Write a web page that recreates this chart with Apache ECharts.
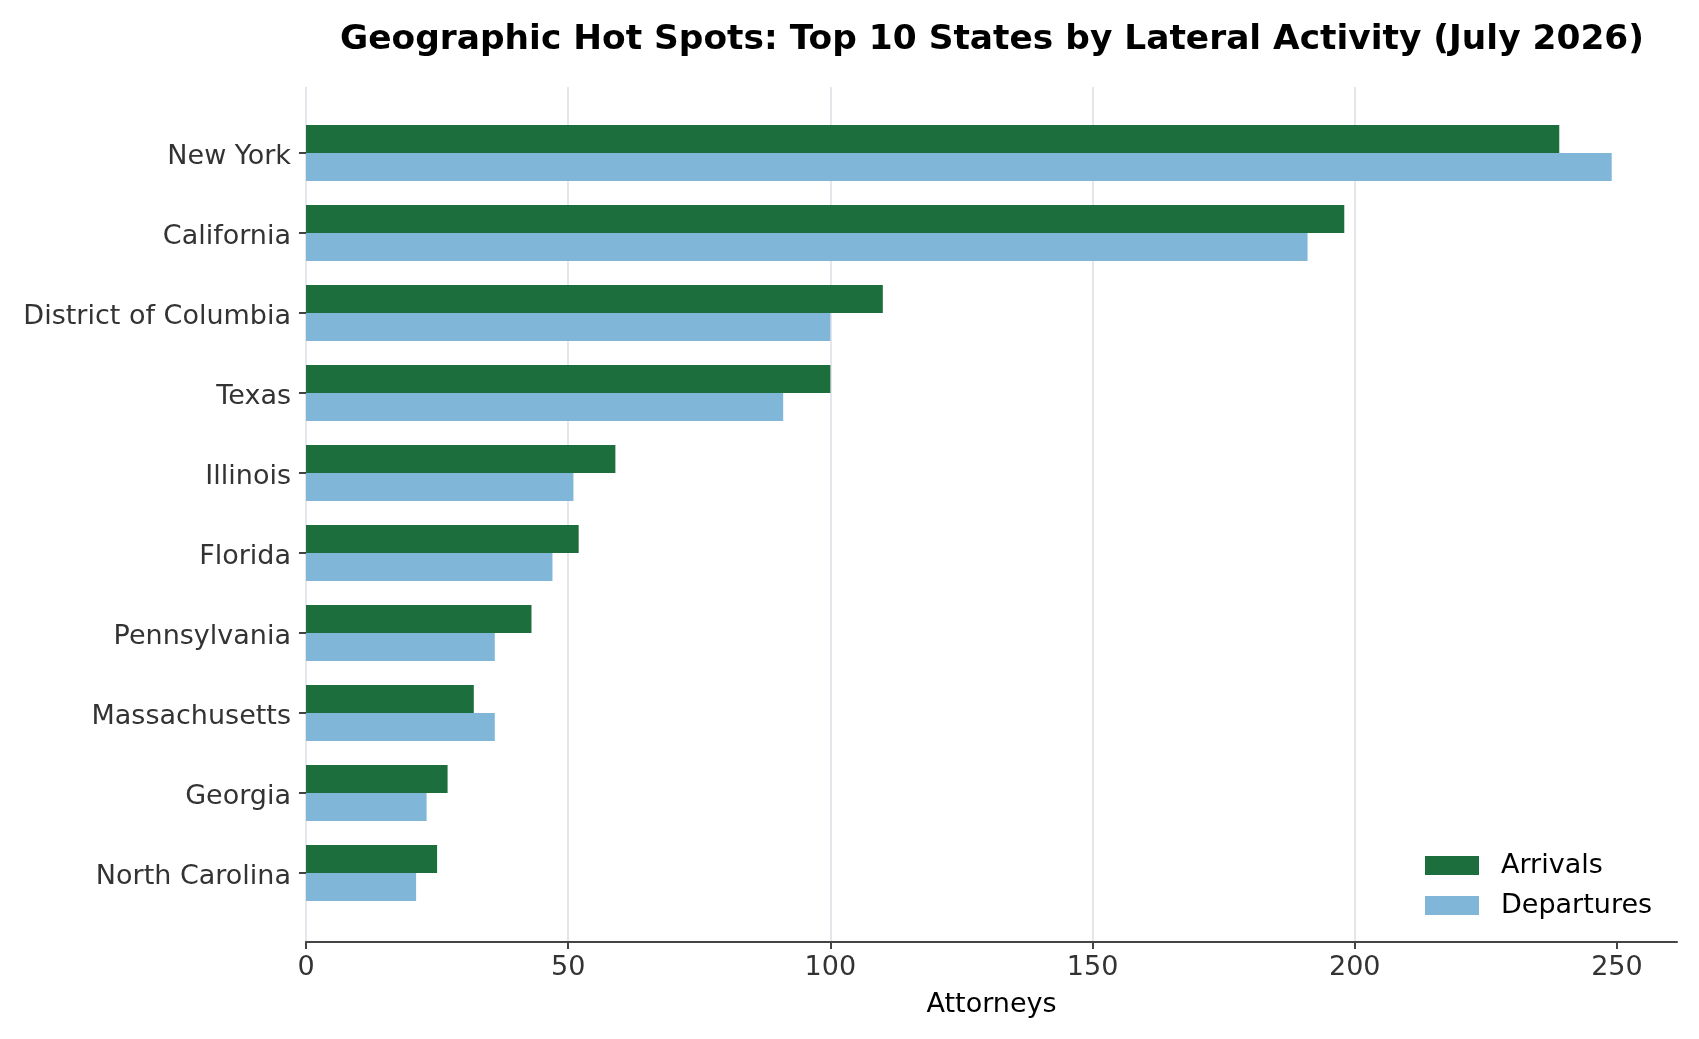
<!DOCTYPE html>
<html>
<head>
<meta charset="utf-8">
<title>Geographic Hot Spots</title>
<script src="https://cdn.jsdelivr.net/npm/echarts@6/dist/echarts.min.js"></script>
<style>
  html, body { margin: 0; padding: 0; background: #fff; }
  #chart { width: 1699px; height: 1039px; }
</style>
</head>
<body>
<div id="chart"></div>
<script>
// data
var states = ['New York', 'California', 'District of Columbia', 'Texas', 'Illinois',
              'Florida', 'Pennsylvania', 'Massachusetts', 'Georgia', 'North Carolina'];
var arrivals = [239, 198, 110, 100, 59, 52, 43, 32, 27, 25];
var departures = [249, 191, 100, 91, 51, 47, 36, 36, 23, 21];
var xTicks = [0, 50, 100, 150, 200, 250];
var xMax = 261.45; // matplotlib-style 5% margin over the largest bar

var font = 'DejaVu Sans';
var myChart = echarts.init(document.getElementById('chart'));

var option = {
    backgroundColor: '#fff',
    animation: false,
    title: {
        text: 'Geographic Hot Spots: Top 10 States by Lateral Activity (July 2026)',
        left: 987,
        textAlign: 'center',
        top: 18,
        textStyle: { fontFamily: font, fontSize: 34.4, fontWeight: 'bold', color: '#000' }
    },
    legend: {
        orient: 'vertical',
        left: 1420,
        top: 847,
        itemWidth: 54,
        itemHeight: 19,
        itemGap: 13,
        icon: 'rect',
        textStyle: { fontFamily: font, fontSize: 27, color: '#000', padding: [0, 0, 0, 17] },
        data: ['Arrivals', 'Departures']
    },
    grid: [
        // bars
        { left: 306, right: 22, top: 113, height: 800 },
        // frame: gridlines and x axis
        { left: 306, right: 22, top: 87, bottom: 97 }
    ],
    xAxis: [
        { gridIndex: 0, type: 'value', min: 0, max: xMax, show: false },
        {
            gridIndex: 1, type: 'value', min: 0, max: xMax, interval: 50,
            name: 'Attorneys', nameLocation: 'middle', nameGap: 49,
            nameTextStyle: { fontFamily: font, fontSize: 27, color: '#000' },
            axisLine: { show: true, lineStyle: { color: '#444', width: 2 } },
            axisTick: { show: true, length: 7, lineStyle: { color: '#444', width: 2 }, customValues: xTicks },
            axisLabel: { fontFamily: font, fontSize: 27, color: '#333', margin: 12, customValues: xTicks },
            splitLine: { show: true, showMaxLine: false, lineStyle: { color: '#e5e5eb', width: 2 } }
        }
    ],
    yAxis: [
        {
            gridIndex: 0, type: 'category', inverse: true, data: states,
            axisLine: { show: false },
            axisTick: { show: true, alignWithLabel: true, length: 7, lineStyle: { color: '#444', width: 2 } },
            axisLabel: {
                margin: 15,
                formatter: '{s|{value}}',
                rich: { s: { fontFamily: font, fontSize: 27, color: '#333', padding: [8, 0, 0, 0] } }
            }
        },
        { gridIndex: 1, type: 'value', min: 0, max: 1, show: false }
    ],
    series: [
        {
            name: 'Arrivals', type: 'bar', xAxisIndex: 0, yAxisIndex: 0,
            barWidth: '35%', barGap: '0%',
            itemStyle: { color: '#1c6e3c' },
            data: arrivals
        },
        {
            name: 'Departures', type: 'bar', xAxisIndex: 0, yAxisIndex: 0,
            barWidth: '35%', barGap: '0%',
            itemStyle: { color: '#80b7d9' },
            data: departures
        }
    ]
};

myChart.setOption(option);
</script>
</body>
</html>
